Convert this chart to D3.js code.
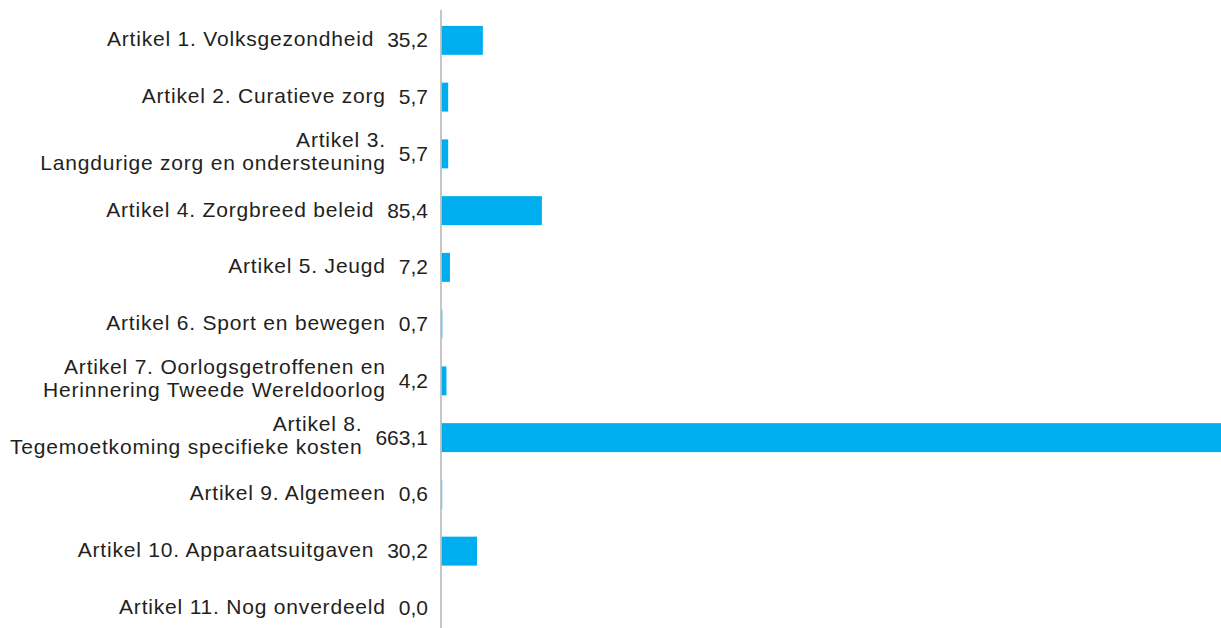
<!DOCTYPE html>
<html>
<head>
<meta charset="utf-8">
<script src="https://cdn.jsdelivr.net/npm/d3@7"></script>
<style>
  html, body { margin: 0; padding: 0; background: #fff; }
  svg { display: block; }
  text { font-family: "Liberation Sans", Arial, sans-serif; fill: #231f20; }
</style>
</head>
<body>
<div id="chart"></div>
<script>
'use strict';

const W = 1221, H = 628;

// category labels (multi-line labels split on \n)
const categories = [
  'Artikel 1. Volksgezondheid',
  'Artikel 2. Curatieve zorg',
  'Artikel 3.\nLangdurige zorg en ondersteuning',
  'Artikel 4. Zorgbreed beleid',
  'Artikel 5. Jeugd',
  'Artikel 6. Sport en bewegen',
  'Artikel 7. Oorlogsgetroffenen en\nHerinnering Tweede Wereldoorlog',
  'Artikel 8.\nTegemoetkoming specifieke kosten',
  'Artikel 9. Algemeen',
  'Artikel 10. Apparaatsuitgaven',
  'Artikel 11. Nog onverdeeld',
];
const values = [35.2, 5.7, 5.7, 85.4, 7.2, 0.7, 4.2, 663.1, 0.6, 30.2, 0.0];

const fmt = v => d3.format('.1f')(v).replace('.', ',');

const svg = d3.select('#chart').append('svg')
  .attr('width', W).attr('height', H);

const x = d3.scaleLinear().domain([0, 663.1]).range([441.5, 1221]);
const y = d3.scaleBand()
  .domain(d3.range(categories.length))
  .range([12, 12 + 56.75 * categories.length])
  .paddingInner(0.49).paddingOuter(0.245);

const rows = categories.map((c, i) => ({ label: c, value: values[i], i }));

// bars
svg.append('g').selectAll('rect')
  .data(rows)
  .join('rect')
  .attr('x', x(0))
  .attr('y', d => y(d.i))
  .attr('width', d => Math.max(0, x(d.value) - x(0)))
  .attr('height', y.bandwidth())
  .attr('fill', '#00aeef');

// vertical axis line
svg.append('line')
  .attr('x1', 441).attr('x2', 441)
  .attr('y1', 10).attr('y2', H)
  .attr('stroke', '#b3b3b3').attr('stroke-width', 1.5);

const FS = 21;
const LS = 0.8;
const VALUE_RIGHT = 428;

const lab = svg.append('g').selectAll('g')
  .data(rows)
  .join('g')
  .attr('transform', d => `translate(0,${y(d.i) + y.bandwidth() / 2})`);

lab.append('text')
  .attr('x', VALUE_RIGHT).attr('y', 7)
  .attr('text-anchor', 'end')
  .attr('font-size', FS)
  .text(d => fmt(d.value));

lab.each(function (d) {
  const g = d3.select(this);
  const vw = g.select('text').node().getComputedTextLength();
  const right = VALUE_RIGHT - vw - 13;
  const lines = d.label.split('\n');
  const t = g.append('text')
    .attr('text-anchor', 'end')
    .attr('font-size', FS)
    .attr('letter-spacing', LS);
  if (lines.length === 1) {
    t.append('tspan').attr('x', right).attr('y', 6).text(lines[0]);
  } else {
    t.append('tspan').attr('x', right).attr('y', -6.5).text(lines[0]);
    t.append('tspan').attr('x', right).attr('y', 16).text(lines[1]);
  }
});
</script>
</body>
</html>
